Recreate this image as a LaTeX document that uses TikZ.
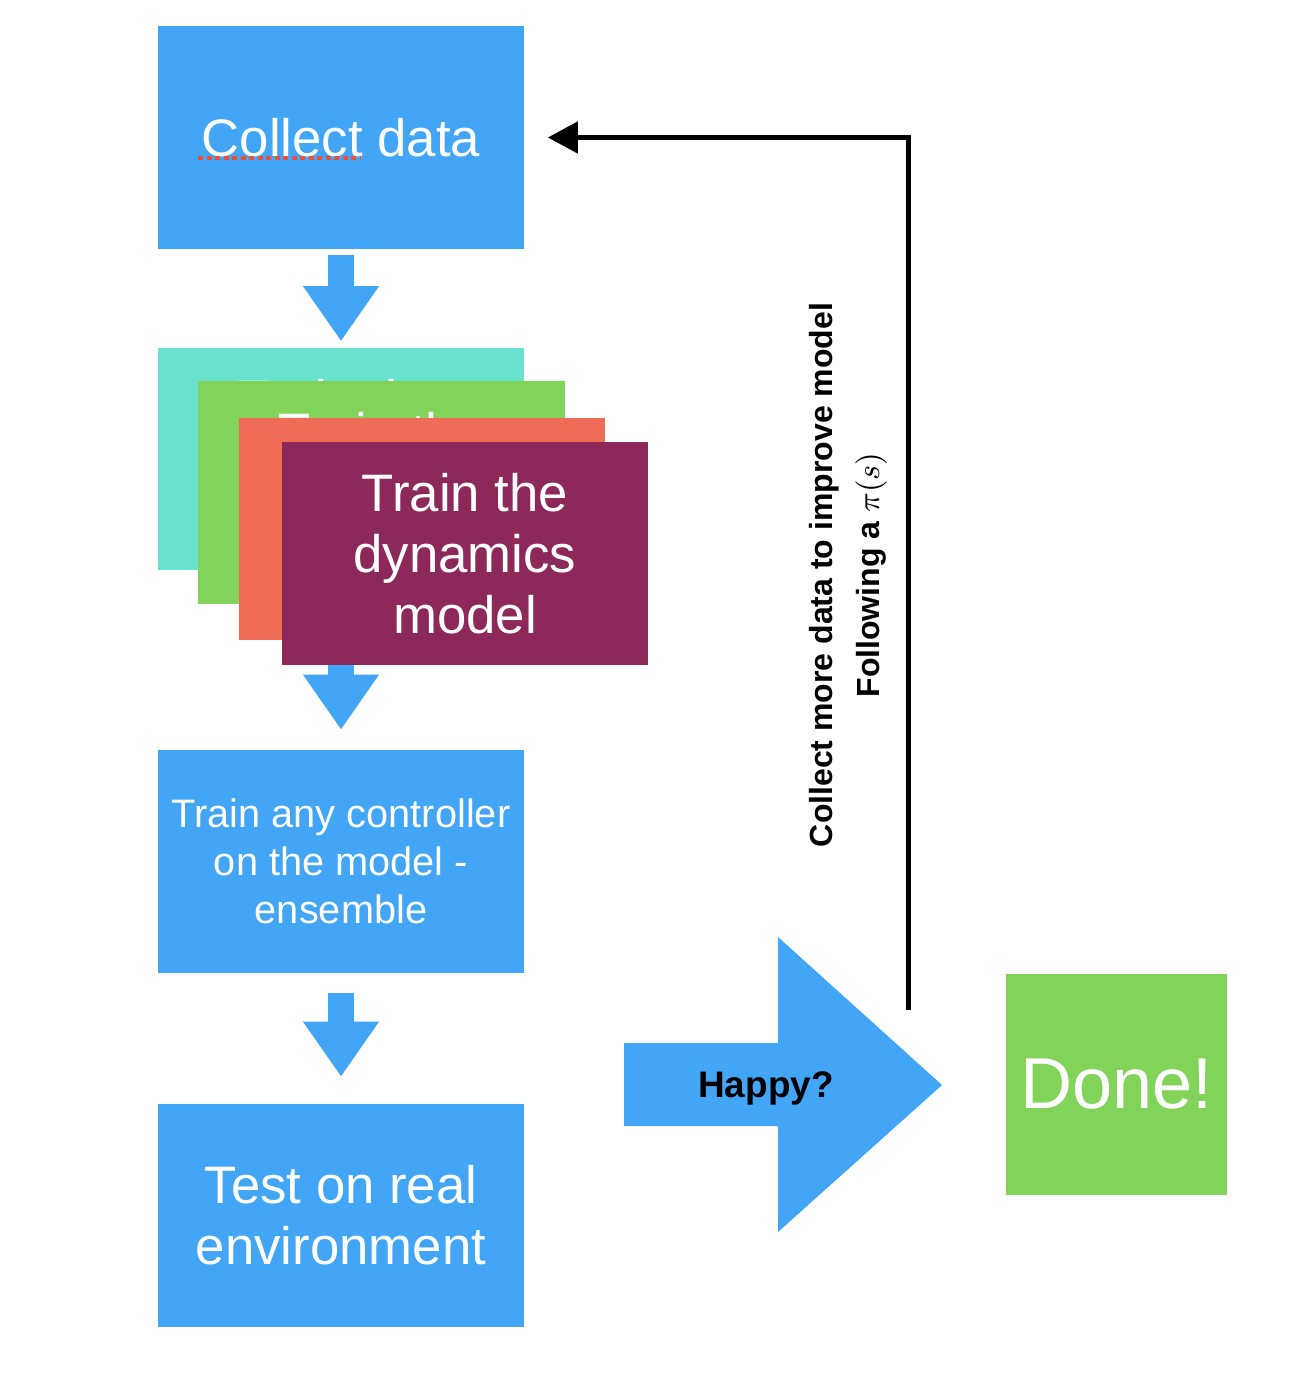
\documentclass[tikz,border=0pt]{standalone}
\usepackage{fontspec}
\setmainfont{Liberation Sans}
\usetikzlibrary{arrows.meta}
\definecolor{skyblue}{RGB}{66,165,245}
\definecolor{mint}{RGB}{105,227,208}
\definecolor{leaf}{RGB}{129,212,89}
\definecolor{salmon}{RGB}{239,108,87}
\definecolor{plum}{RGB}{140,40,90}
\definecolor{spellred}{RGB}{232,80,60}

\begin{document}
\begin{tikzpicture}[x=0.01cm, y=-0.01cm,
  box/.style={fill=#1, text=white, minimum width=3.66cm, minimum height=2.22cm, inner sep=0pt, align=center},
  big/.style={font=\fontsize{15}{17.3}\selectfont},
  fat/.style={skyblue, line width=0.25cm, -{Triangle[length=5.5mm 0, width=7.2mm 0]}}]
  \useasboundingbox (0,0) rectangle (1308,1382);

  \node[box=skyblue, big] (C) at (341,137.5) {Collect data};
  \draw[spellred, line width=0.04cm, dash pattern=on 0.05cm off 0.035cm] (198,158) -- (361,158);

  \node[box=skyblue, font=\fontsize{11.3}{13.6}\selectfont] (K) at (341,861.5) {Train any controller\\on the model -\\ensemble};
  \node[box=skyblue, big] (E) at (341,1215.5) {Test on real\\environment};

  \node[box=mint, big] (M1) at (341,459) {Train the\\dynamics\\model};
  \draw[fat] ([yshift=-0.6mm]C.south) -- ([yshift=0.6mm]M1.north);
  \draw[fat] (M1.south) -- ([yshift=2mm]K.north);
  \node[box=leaf, big] (M2) at (381.5,492.5) {Train the\\dynamics\\model};
  \node[box=salmon, big] (M3) at (422,529) {Train the\\dynamics\\model};
  \node[box=plum, big] (M4) at (465,553.5) {Train the\\dynamics\\model};

  \draw[fat] ([yshift=-2mm]K.south) -- ([yshift=2.7mm]E.north);

%  happy arrow
  \fill[skyblue] (624,1043) -- (778,1043) -- (778,937) -- (942,1085) -- (778,1232) -- (778,1126) -- (624,1126) -- cycle;
  \node[font=\bfseries\fontsize{10.5}{12}\selectfont] (H) at (766,1088) {Happy?};

  \node[box=leaf, minimum width=2.21cm, minimum height=2.21cm, font=\fontsize{20.5}{24}\selectfont] (D) at (1116.5,1084.5) {\raisebox{-0.8mm}{Done!}};

  \coordinate (Q) at (908,1010);
  \draw[line width=0.05cm, -{Triangle[length=3mm 0, width=3.1mm 0]}] (Q) |- ([xshift=2.3mm]C.east);
  \node[rotate=90, align=center, font=\bfseries\fontsize{9.1}{13.4}\selectfont] (L) at (848,575) {Collect more data to improve model\\Following a $\pi(s)$};
\end{tikzpicture}
\end{document}
